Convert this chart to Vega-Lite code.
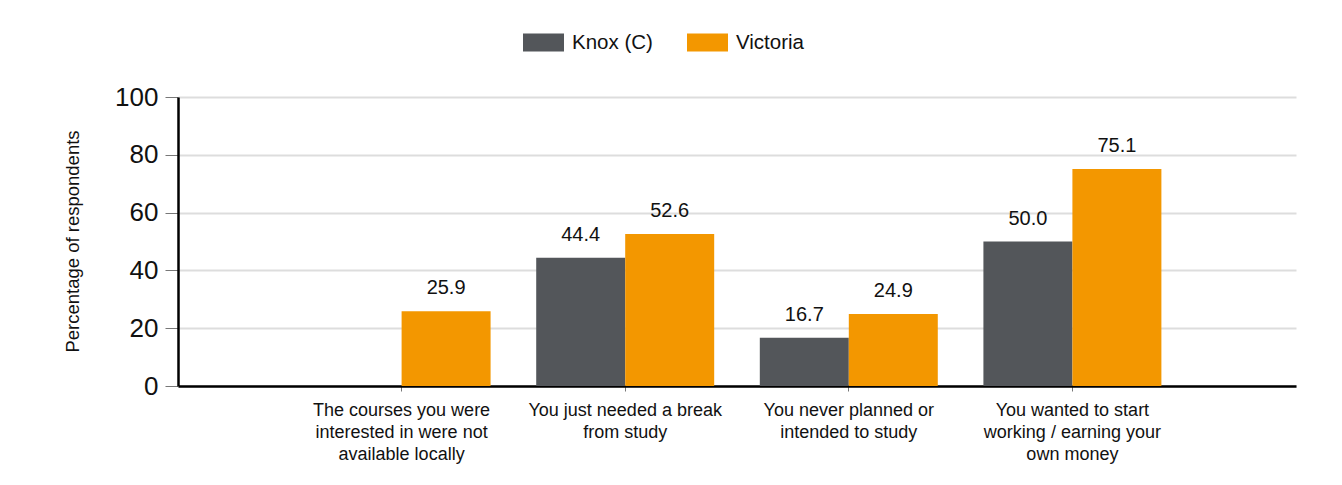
{
  "$schema": "https://vega.github.io/schema/vega-lite/v6.json",
  "width": 1118,
  "height": 289,
  "autosize": {"type": "none"},
  "padding": {"left": 178, "top": 97, "right": 46, "bottom": 99},
  "background": "white",
  "config": {
    "font": "Liberation Sans",
    "view": {"stroke": null}
  },
  "data": {
    "values": [
      {"category": "The courses you were|interested in were not|available locally", "series": "Victoria", "value": 25.9},
      {"category": "You just needed a break|from study", "series": "Knox (C)", "value": 44.4},
      {"category": "You just needed a break|from study", "series": "Victoria", "value": 52.6},
      {"category": "You never planned or|intended to study", "series": "Knox (C)", "value": 16.7},
      {"category": "You never planned or|intended to study", "series": "Victoria", "value": 24.9},
      {"category": "You wanted to start|working / earning your|own money", "series": "Knox (C)", "value": 50.0},
      {"category": "You wanted to start|working / earning your|own money", "series": "Victoria", "value": 75.1}
    ]
  },
  "encoding": {
    "x": {
      "field": "category",
      "type": "nominal",
      "sort": null,
      "scale": {"paddingInner": 0.204, "paddingOuter": 0.602},
      "axis": {
        "title": null,
        "labelAngle": 0,
        "labelExpr": "split(datum.value, '|')",
        "labelFontSize": 18,
        "labelLineHeight": 22,
        "labelColor": "#111111",
        "labelLimit": 0,
        "labelPadding": 10,
        "tickSize": 5,
        "tickColor": "#777777",
        "domainColor": "#000000",
        "domainWidth": 2.5,
        "grid": false
      }
    },
    "xOffset": {
      "field": "series",
      "type": "nominal",
      "scale": {"domain": ["Knox (C)", "Victoria"], "paddingInner": 0, "paddingOuter": 0}
    },
    "y": {
      "field": "value",
      "type": "quantitative",
      "scale": {"domain": [0, 100]},
      "axis": {
        "title": "Percentage of respondents",
        "titleFontSize": 18.5,
        "titleFontWeight": "normal",
        "titleColor": "#111111",
        "titleX": -106,
        "titleY": 144,
        "titleAngle": -90,
        "titleAlign": "center",
        "titleBaseline": "middle",
        "values": [0, 20, 40, 60, 80, 100],
        "labelFontSize": 26,
        "labelColor": "#111111",
        "labelPadding": 7,
        "tickSize": 13,
        "tickColor": "#777777",
        "domainColor": "#000000",
        "domainWidth": 2.5,
        "gridColor": "#dddddd",
        "gridWidth": 2
      }
    }
  },
  "layer": [
    {
      "mark": {"type": "bar"},
      "encoding": {
        "color": {
          "field": "series",
          "type": "nominal",
          "scale": {"domain": ["Knox (C)", "Victoria"], "range": ["#53565a", "#f39700"]},
          "legend": {
            "title": null,
            "orient": "none",
            "direction": "horizontal",
            "legendX": 345,
            "legendY": -75,
            "symbolType": "M-1,-0.44L1,-0.44L1,0.44L-1,0.44Z",
            "symbolSize": 1681,
            "symbolStrokeWidth": 0,
            "labelFontSize": 20.5,
            "labelColor": "#111111",
            "labelOffset": 8,
            "columnPadding": 34,
            "symbolOpacity": 1
          }
        }
      }
    },
    {
      "mark": {"type": "text", "baseline": "alphabetic", "dy": -17, "fontSize": 20, "color": "#111111"},
      "encoding": {
        "text": {"field": "value", "type": "quantitative", "format": ".1f"}
      }
    }
  ]
}
